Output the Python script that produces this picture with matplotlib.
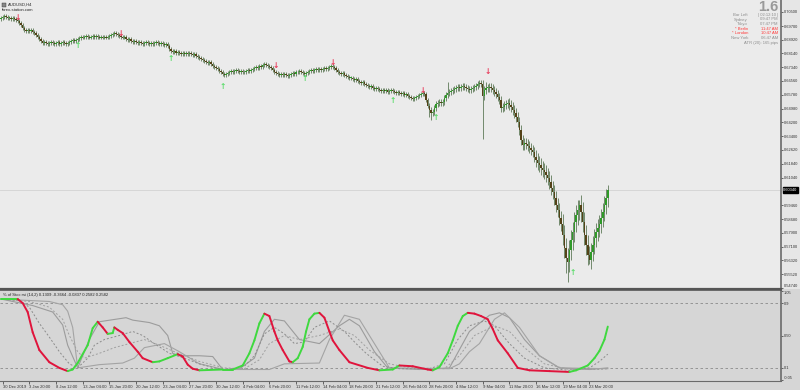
import matplotlib
matplotlib.use('Agg')
import matplotlib.pyplot as plt
import numpy as np
from matplotlib.collections import LineCollection
from matplotlib.patches import Rectangle

plt.rcParams['font.family'] = ['Liberation Sans', 'DejaVu Sans']

W, H = 800, 390

# AUDUSD H4 closes, one per bar
close = [
    0.7016, 0.7021, 0.7027, 0.7021, 0.7016, 0.7016, 0.7010, 0.7016, 0.7010, 0.7004,
    0.6999, 0.6987, 0.6976, 0.6959, 0.6947, 0.6942, 0.6947, 0.6942, 0.6947, 0.6936,
    0.6930, 0.6919, 0.6907, 0.6896, 0.6884, 0.6873, 0.6879, 0.6873, 0.6867, 0.6873,
    0.6879, 0.6873, 0.6867, 0.6873, 0.6879, 0.6867, 0.6873, 0.6879, 0.6873, 0.6867,
    0.6873, 0.6879, 0.6884, 0.6890, 0.6884, 0.6890, 0.6896, 0.6902, 0.6907, 0.6902,
    0.6907, 0.6913, 0.6907, 0.6902, 0.6907, 0.6913, 0.6907, 0.6913, 0.6907, 0.6902,
    0.6907, 0.6902, 0.6907, 0.6902, 0.6907, 0.6913, 0.6919, 0.6924, 0.6930, 0.6924,
    0.6919, 0.6913, 0.6907, 0.6902, 0.6907, 0.6896, 0.6890, 0.6896, 0.6884, 0.6879,
    0.6884, 0.6879, 0.6873, 0.6879, 0.6873, 0.6867, 0.6873, 0.6879, 0.6873, 0.6867,
    0.6873, 0.6867, 0.6873, 0.6879, 0.6873, 0.6867, 0.6873, 0.6867, 0.6862, 0.6867,
    0.6856, 0.6839, 0.6827, 0.6822, 0.6827, 0.6816, 0.6822, 0.6816, 0.6810, 0.6816,
    0.6810, 0.6816, 0.6810, 0.6816, 0.6810, 0.6804, 0.6810, 0.6799, 0.6793, 0.6787,
    0.6782, 0.6776, 0.6770, 0.6765, 0.6759, 0.6765, 0.6753, 0.6742, 0.6736, 0.6730,
    0.6725, 0.6713, 0.6707, 0.6696, 0.6690, 0.6696, 0.6702, 0.6707, 0.6713, 0.6707,
    0.6713, 0.6719, 0.6713, 0.6707, 0.6713, 0.6707, 0.6707, 0.6713, 0.6719, 0.6713,
    0.6719, 0.6725, 0.6730, 0.6736, 0.6730, 0.6742, 0.6736, 0.6747, 0.6753, 0.6747,
    0.6742, 0.6736, 0.6730, 0.6719, 0.6707, 0.6702, 0.6696, 0.6690, 0.6696, 0.6690,
    0.6696, 0.6690, 0.6685, 0.6690, 0.6696, 0.6702, 0.6696, 0.6707, 0.6707, 0.6713,
    0.6707, 0.6702, 0.6696, 0.6702, 0.6707, 0.6713, 0.6719, 0.6713, 0.6719, 0.6725,
    0.6719, 0.6725, 0.6719, 0.6725, 0.6730, 0.6725, 0.6730, 0.6736, 0.6742, 0.6736,
    0.6730, 0.6719, 0.6707, 0.6702, 0.6696, 0.6702, 0.6690, 0.6685, 0.6679, 0.6673,
    0.6673, 0.6667, 0.6662, 0.6667, 0.6656, 0.6650, 0.6645, 0.6650, 0.6639, 0.6633,
    0.6627, 0.6622, 0.6627, 0.6616, 0.6610, 0.6616, 0.6610, 0.6605, 0.6599, 0.6605,
    0.6599, 0.6605, 0.6593, 0.6599, 0.6605, 0.6599, 0.6593, 0.6587, 0.6593, 0.6587,
    0.6582, 0.6587, 0.6576, 0.6582, 0.6570, 0.6565, 0.6559, 0.6553, 0.6559, 0.6565,
    0.6570, 0.6576, 0.6582, 0.6587, 0.6582, 0.6548, 0.6513, 0.6490, 0.6473, 0.6479,
    0.6502, 0.6525, 0.6530, 0.6536, 0.6530, 0.6536, 0.6559, 0.6576, 0.6587, 0.6593,
    0.6599, 0.6605, 0.6610, 0.6616, 0.6622, 0.6616, 0.6622, 0.6627, 0.6622, 0.6616,
    0.6610, 0.6605, 0.6610, 0.6616, 0.6622, 0.6627, 0.6639, 0.6645, 0.6639, 0.6570,
    0.6605, 0.6616, 0.6616, 0.6622, 0.6616, 0.6605, 0.6593, 0.6582, 0.6565, 0.6548,
    0.6502, 0.6508, 0.6519, 0.6525, 0.6530, 0.6519, 0.6508, 0.6490, 0.6473, 0.6450,
    0.6422, 0.6376, 0.6319, 0.6291, 0.6302, 0.6296, 0.6285, 0.6274, 0.6262, 0.6251,
    0.6222, 0.6205, 0.6188, 0.6176, 0.6159, 0.6148, 0.6137, 0.6119, 0.6102, 0.6079,
    0.6045, 0.6022, 0.5988, 0.5948, 0.5919, 0.5874, 0.5840, 0.5777, 0.5703, 0.5645,
    0.5623, 0.5691, 0.5748, 0.5794, 0.5851, 0.5891, 0.5919, 0.5948, 0.5908, 0.5851,
    0.5777, 0.5720, 0.5662, 0.5634, 0.5680, 0.5720, 0.5760, 0.5794, 0.5817, 0.5840,
    0.5874, 0.5908, 0.5948, 0.5988, 0.6034,
]
first_open = 0.7010

# typical wick size for each 16-bar block between date labels
wick_block = [0.0011, 0.0011, 0.0010, 0.0009, 0.0009, 0.0009, 0.0010, 0.0010,
              0.0011, 0.0011, 0.0011, 0.0010, 0.0010, 0.0010, 0.0011, 0.0012,
              0.0015, 0.0015, 0.0022, 0.0030, 0.0040, 0.0055, 0.0050]
spike_high = {268: 0.6650, 286: 0.6656, 291: 0.6650, 347: 0.5975, 364: 0.6060}
spike_low = {257: 0.6450, 258: 0.6433, 289: 0.6322, 312: 0.6290,
             339: 0.5560, 340: 0.5509, 353: 0.5610}

buy_bars = [46, 102, 133, 182, 235, 261, 343]
buy_prices = [0.6856, 0.6782, 0.6627, 0.6673, 0.6542, 0.6445, 0.5565]
sell_bars = [10, 72, 165, 199, 253, 292]
sell_prices = [0.7016, 0.6930, 0.6747, 0.6762, 0.6599, 0.6713]

price_ticks = [0.70500, 0.69700, 0.68920, 0.68140, 0.67340, 0.66560, 0.65780,
               0.64980, 0.64200, 0.63400, 0.62620, 0.61840, 0.61040, 0.59460,
               0.58680, 0.57900, 0.57100, 0.56320, 0.55520, 0.54740]

date_labels = ['30 Dec 2019', '3 Jan 20:00', '8 Jan 12:00', '13 Jan 04:00',
               '15 Jan 20:00', '20 Jan 12:00', '23 Jan 04:00', '27 Jan 20:00',
               '30 Jan 12:00', '4 Feb 04:00', '6 Feb 20:00', '11 Feb 12:00',
               '14 Feb 04:00', '18 Feb 20:00', '21 Feb 12:00', '26 Feb 04:00',
               '28 Feb 20:00', '4 Mar 12:00', '9 Mar 04:00', '11 Mar 20:00',
               '16 Mar 12:00', '19 Mar 04:00', '23 Mar 20:00']

# % of Stoch RSI: main line + grey helper lines, (bar, value)
main_bar = [0, 10, 13, 16, 19, 23, 29, 35, 40, 43, 46, 52, 55, 58, 61, 64, 67, 68,
            70, 73, 77, 82, 85, 91, 95, 100, 106, 109, 112, 115, 119, 133, 139,
            145, 149, 152, 155, 158, 161, 164, 166, 169, 173, 175, 178, 181, 183,
            185, 188, 191, 194, 197, 199, 203, 209, 220, 227, 235, 239, 247, 256,
            259, 263, 268, 271, 274, 277, 280, 284, 288, 292, 295, 298, 304, 310,
            317, 329, 341, 345, 352, 356, 359, 362, 364]
main_val = [0.95, 0.95, 0.90, 0.79, 0.54, 0.32, 0.17, 0.10, 0.06, 0.08, 0.16, 0.38,
            0.59, 0.67, 0.60, 0.52, 0.53, 0.60, 0.57, 0.53, 0.42, 0.30, 0.22, 0.17,
            0.18, 0.22, 0.27, 0.24, 0.14, 0.09, 0.07, 0.08, 0.08, 0.13, 0.28, 0.44,
            0.65, 0.77, 0.74, 0.55, 0.44, 0.32, 0.18, 0.17, 0.22, 0.36, 0.55, 0.70,
            0.77, 0.78, 0.72, 0.55, 0.44, 0.32, 0.17, 0.10, 0.07, 0.08, 0.13, 0.12,
            0.08, 0.07, 0.11, 0.28, 0.44, 0.62, 0.74, 0.78, 0.77, 0.74, 0.70, 0.58,
            0.44, 0.28, 0.10, 0.07, 0.06, 0.05, 0.07, 0.13, 0.22, 0.31, 0.45, 0.61]

s1_bar = [0, 19, 31, 37, 40, 46, 53, 59, 75, 79, 89, 95, 100, 103, 107, 119, 127,
          133, 143, 152, 158, 164, 170, 179, 191, 203, 209, 215, 224, 232, 251,
          269, 281, 293, 299, 305, 314, 323, 335, 353, 364]
s1_val = [0.95, 0.87, 0.79, 0.63, 0.38, 0.10, 0.45, 0.67, 0.72, 0.69, 0.66, 0.62,
          0.50, 0.28, 0.25, 0.25, 0.24, 0.08, 0.09, 0.22, 0.55, 0.70, 0.68, 0.45,
          0.40, 0.62, 0.70, 0.62, 0.30, 0.10, 0.08, 0.10, 0.55, 0.75, 0.78, 0.72,
          0.45, 0.25, 0.10, 0.08, 0.10]

s2_bar = [0, 29, 37, 40, 43, 46, 59, 73, 80, 86, 98, 107, 119, 134, 161, 170, 191,
          197, 206, 215, 224, 233, 269, 275, 281, 287, 296, 302, 311, 323, 335, 364]
s2_val = [0.95, 0.92, 0.88, 0.80, 0.60, 0.10, 0.14, 0.16, 0.22, 0.35, 0.40, 0.30,
          0.15, 0.08, 0.08, 0.15, 0.16, 0.45, 0.75, 0.70, 0.40, 0.10, 0.09, 0.15,
          0.30, 0.40, 0.70, 0.78, 0.60, 0.25, 0.10, 0.09]

d1_bar = [0, 11, 17, 23, 29, 35, 41, 46, 52, 56, 62, 71, 79, 85, 92, 101, 110, 119,
          128, 134, 140, 146, 152, 158, 164, 170, 176, 182, 188, 197, 206, 213, 219,
          229, 239, 257, 266, 274, 281, 290, 296, 305, 314, 326, 341, 353, 359, 364]
d1_val = [0.95, 0.93, 0.85, 0.65, 0.48, 0.30, 0.15, 0.10, 0.22, 0.38, 0.45, 0.50,
          0.55, 0.50, 0.40, 0.28, 0.22, 0.15, 0.10, 0.08, 0.09, 0.12, 0.25, 0.52,
          0.60, 0.52, 0.40, 0.42, 0.60, 0.68, 0.55, 0.40, 0.28, 0.12, 0.09, 0.09,
          0.15, 0.45, 0.62, 0.68, 0.62, 0.40, 0.22, 0.10, 0.07, 0.10, 0.18, 0.27]

d2_bar = [0, 17, 29, 37, 41, 46, 50, 59, 68, 77, 86, 95, 104, 119, 134, 146, 155,
          161, 170, 179, 191, 203, 212, 221, 233, 245, 266, 275, 284, 296, 305, 314,
          326, 341, 359, 364]
d2_val = [0.95, 0.92, 0.85, 0.70, 0.50, 0.30, 0.22, 0.28, 0.35, 0.40, 0.45, 0.38,
          0.30, 0.18, 0.10, 0.09, 0.20, 0.40, 0.50, 0.45, 0.50, 0.58, 0.50, 0.32,
          0.15, 0.10, 0.09, 0.25, 0.50, 0.62, 0.55, 0.35, 0.15, 0.08, 0.08, 0.09]

ind_levels = [0.9, 0.1]
ind_ticks = [1.05, 0.9, 0.5, 0.1, -0.05]
ind_tick_labels = ['1.05', '0.9', '0.50', '0.1', '-0.05']


def px(x, y):
    return x / W, 1 - y / H


fig = plt.figure(figsize=(W / 100, H / 100), dpi=100)
fig.patch.set_facecolor('#d6d6d6')
fig.patches.append(Rectangle(px(781, 289), 19 / W, 289 / H, transform=fig.transFigure,
                             fc='#e6e6e6', ec='none', zorder=-5))

ax = fig.add_axes([0, 1 - 289 / H, 781 / W, 289 / H])
ind = fig.add_axes([0, 1 - 381 / H, 781 / W, 91 / H])
xlim = (-0.6, 467.9)

# ---- price panel ----
ax.set_facecolor('#ebebeb')
c = np.array(close)
o = np.r_[first_open, c[:-1]]
n = len(c)
bars = np.arange(n)
wk = np.array([wick_block[min(max((i - 1) // 16, 0), len(wick_block) - 1)] for i in bars])
hi = np.maximum(o, c) + wk
lo = np.minimum(o, c) - wk
for i, v in spike_high.items():
    hi[i] = v
for i, v in spike_low.items():
    lo[i] = v

up = c >= o
ax.vlines(bars, lo, hi, color='#5f7a58', lw=0.6, zorder=2)
body_h = np.maximum(np.abs(c - o), 0.0003)
ax.bar(bars[up], body_h[up], bottom=np.minimum(o, c)[up], width=0.85,
       color='#2f9a28', lw=0, zorder=3)
ax.bar(bars[~up], body_h[~up], bottom=np.minimum(o, c)[~up], width=0.85,
       color='#544218', lw=0, zorder=3)

ax.axhline(c[-1], color='#d2d2d2', lw=0.6, zorder=1)

for b, p in zip(buy_bars, buy_prices):
    ax.text(b, p, '\u2191', color='#5bdc6a', fontsize=5.5, fontweight='bold',
            ha='center', va='center', family='DejaVu Sans', zorder=4)
for b, p in zip(sell_bars, sell_prices):
    ax.text(b, p, '\u2193', color='#e83a5a', fontsize=5.5, fontweight='bold',
            ha='center', va='center', family='DejaVu Sans', zorder=4)

ax.set_xlim(*xlim)
ax.set_ylim(0.54683, 0.71185)
ax.set_xticks([])
ax.yaxis.tick_right()
ax.set_yticks(price_ticks)
ax.set_yticklabels([f'{p:.5f}' for p in price_ticks])
ax.tick_params(axis='y', length=1.5, width=0.5, pad=0.6, labelsize=2.9,
               colors='#333333')
ax.get_yticklabels()[-1].set_va('bottom')
for s in ['top', 'left']:
    ax.spines[s].set_visible(False)
ax.spines['right'].set_color('#6a6a6a')
ax.spines['right'].set_linewidth(1.2)
ax.spines['bottom'].set_color('#555555')
ax.spines['bottom'].set_linewidth(1.6)

ax.text(1.003, c[-1], f'{c[-1]:.5f}', transform=ax.get_yaxis_transform(),
        ha='left', va='center', color='white', fontsize=2.9,
        bbox=dict(boxstyle='square,pad=0.2', fc='black', ec='black'))

# ---- indicator panel ----
ind.set_facecolor('#d6d6d6')
for lv in ind_levels:
    ind.axhline(lv, color='#8a8a8a', lw=0.6, ls=(0, (3, 3)), zorder=1)
ind.plot(s1_bar, s1_val, color='#9c9c9c', lw=0.8, zorder=2)
ind.plot(s2_bar, s2_val, color='#a4a4a4', lw=0.8, zorder=2)
ind.plot(d1_bar, d1_val, color='#8c8c8c', lw=0.7, ls=(0, (2, 2)), zorder=2)
ind.plot(d2_bar, d2_val, color='#a0a0a0', lw=0.7, ls=(0, (2, 2)), zorder=2)

pts = np.column_stack([main_bar, main_val])
segs = np.stack([pts[:-1], pts[1:]], axis=1)
cols = ['#3fd93f' if b >= a else '#e0143c' for a, b in zip(main_val[:-1], main_val[1:])]
ind.add_collection(LineCollection(segs, colors=cols, linewidths=1.4,
                                  capstyle='round', joinstyle='round', zorder=3))

ind.set_xlim(*xlim)
ind.set_ylim(-0.062, 1.062)
ind.yaxis.tick_right()
ind.set_yticks(ind_ticks)
ind.set_yticklabels(ind_tick_labels)
ind.tick_params(axis='y', length=1.5, width=0.5, pad=0.6, labelsize=2.9,
                colors='#333333')
ind.get_yticklabels()[0].set_va('top')
ind.get_yticklabels()[-1].set_va('bottom')
date_bars = [1 + 16 * k for k in range(len(date_labels))]
ind.set_xticks(date_bars)
ind.set_xticklabels(date_labels, ha='left')
ind.tick_params(axis='x', length=2, width=0.5, pad=1, labelsize=3.0,
                colors='#333333')
ind.spines['left'].set_visible(False)
ind.spines['top'].set_color('#555555')
ind.spines['top'].set_linewidth(1.2)
ind.spines['right'].set_color('#6a6a6a')
ind.spines['right'].set_linewidth(1.2)
ind.spines['bottom'].set_color('#6a6a6a')
ind.spines['bottom'].set_linewidth(0.8)

ind.text(0.004, 0.97, '% of Stoc rsi (14,2) 0.1309 -0.3664 -0.0837 0.2582 0.2582',
         transform=ind.transAxes, ha='left', va='top', fontsize=3.0, color='#222222')

# ---- header texts ----
fig.patches.append(Rectangle(px(2, 7), 4 / W, 4 / H, transform=fig.transFigure,
                             fc='#888888', ec='#333333', lw=0.3))
fig.text(*px(8, 5), 'AUDUSD,H4', fontsize=3.0, color='#222222', va='center')
fig.text(*px(2, 10), 'forex-station.com', fontsize=3.0, color='#222222', va='center')

fig.text(*px(778, 7), '1.6', fontsize=10.5, fontweight='bold', color='#9a9a9a',
         ha='right', va='center')
info_left = ['Bar Left', 'Sydney', 'Tokyo', '* Berlin', '* London', 'New York']
info_right = ['| 02:12:10 |', '09:47 PM', '07:47 PM', '11:47 AM', '10:47 AM', '06:47 AM']
info_red = [False, False, False, True, True, False]
info_y = [15, 19.5, 24, 29, 33.5, 38]
for l, r, red, y in zip(info_left, info_right, info_red, info_y):
    col = '#ff3a3a' if red else '#8c8c8c'
    fig.text(*px(748, y), l, fontsize=3.0, color=col, ha='right', va='center')
    fig.text(*px(778, y), r, fontsize=3.0, color=col, ha='right', va='center')
fig.text(*px(778, 43), 'ATR (20): 165 pips', fontsize=3.0, color='#8c8c8c',
         ha='right', va='center')

fig.savefig('out.png', dpi=100, facecolor=fig.get_facecolor())
